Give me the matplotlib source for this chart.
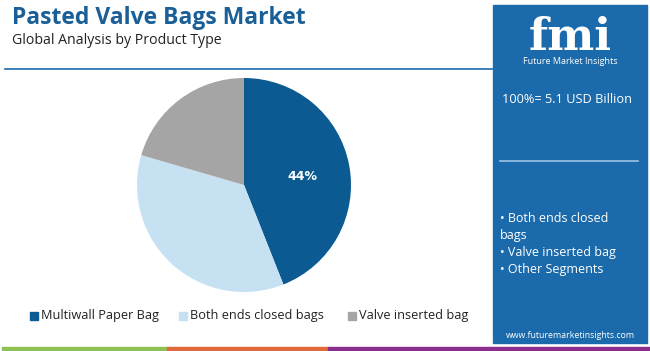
import matplotlib.pyplot as plt
from matplotlib.patches import Rectangle
from matplotlib.lines import Line2D

# Data
segments = ["Multiwall Paper Bag", "Both ends closed bags", "Valve inserted bag"]
shares = [44.0, 35.5, 20.5]
colors = ["#0b5a91", "#c6e2f2", "#a5a5a5"]

title = "Pasted Valve Bags Market"
subtitle = "Global Analysis by Product Type"
total_text = "100%= 5.1 USD Billion"
panel_items = ["\u2022 Both ends closed\nbags", "\u2022 Valve inserted bag", "\u2022 Other Segments"]

W, H = 650, 351
fig = plt.figure(figsize=(W / 100, H / 100), dpi=100)
fig.patch.set_facecolor("white")


def fx(x):
    return x / W


def fy(y):
    return 1 - y / H


# Title block
fig.text(fx(12), fy(18), title, fontsize=16.5, fontweight="bold", color="#1a5f97",
         family="Open Sans", va="center", ha="left")
fig.text(fx(12), fy(40), subtitle, fontsize=10.2, color="#222222",
         family="Open Sans", va="center", ha="left")
fig.add_artist(Line2D([fx(5), fx(492)], [fy(69), fy(69)], color="#1a6aab", lw=1.2))

# Pie
r = 107
ax = fig.add_axes([fx(244 - r), fy(185 + r), fx(2 * r), 2 * r / H])
wedges, _ = ax.pie(shares, colors=colors, startangle=90, counterclock=False,
                   wedgeprops=dict(linewidth=0))
ax.set_xlim(-1, 1)
ax.set_ylim(-1, 1)
ax.set_aspect("equal")
ax.text(0.55, 0.08, f"{shares[0]:.0f}%", color="white", fontsize=9, fontweight="bold",
        ha="center", va="center", family="DejaVu Sans")

# Legend
leg_x = [30, 179, 348]
for x, name, c in zip(leg_x, segments, colors):
    fig.add_artist(Rectangle((fx(x), fy(320)), fx(8), 8 / H, color=c))
    fig.text(fx(x + 11), fy(316), name, fontsize=9.2, color="#222222",
             family="Open Sans", va="center", ha="left")

# Bottom colour strip
for x0, x1, c in [(2, 167, "#8dc152"), (167, 328, "#e06a3a"), (328, 650, "#8b2d8c")]:
    fig.add_artist(Rectangle((fx(x0), 0), fx(x1 - x0), 4 / H, color=c))

# Right panel
fig.add_artist(Rectangle((fx(493), fy(343)), fx(154), 338 / H, color="#1b6aab"))
fig.text(fx(570), fy(50), "fmi", fontsize=32, fontweight="bold", color="white",
         family="DejaVu Serif", ha="center", va="baseline")
fig.text(fx(570), fy(62), "Future Market Insights", fontsize=6.5, color="white",
         family="Open Sans", ha="center", va="center")
fig.text(fx(502), fy(100), total_text, fontsize=9.2, color="white",
         family="Open Sans", ha="left", va="center")
fig.add_artist(Line2D([fx(500), fx(638)], [fy(161), fy(161)], color="#9cc3e3", lw=1.2))
fig.text(fx(500), fy(244), "\n".join(panel_items), fontsize=9, color="white",
         family="Open Sans", ha="left", va="center", linespacing=1.38)
fig.text(fx(570), fy(335), "www.futuremarketinsights.com", fontsize=6.3, color="white",
         family="Open Sans", ha="center", va="center")

fig.savefig("out.png", dpi=100, facecolor="white")
